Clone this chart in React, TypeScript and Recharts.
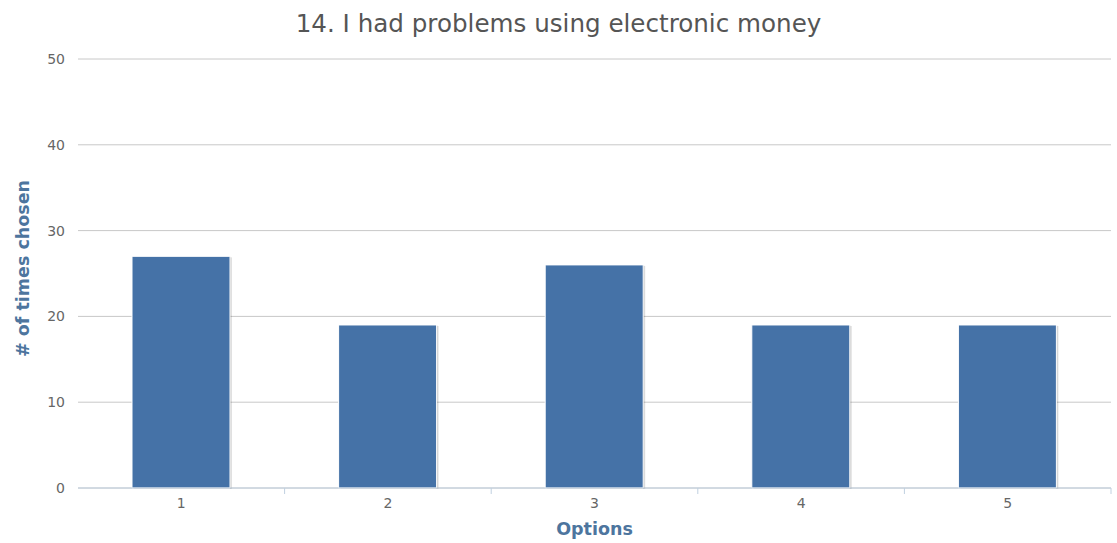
import React from "react";
import { BarChart, Bar, XAxis, YAxis, CartesianGrid, Rectangle } from "recharts";

const categories = ["1", "2", "3", "4", "5"];
const timesChosen = [27, 19, 26, 19, 19];
const yTicks = [0, 10, 20, 30, 40, 50];

const data = categories.map((option, i) => ({ option, value: timesChosen[i] }));

const FONT = "'DejaVu Sans', 'Open Sans', sans-serif";
const AXIS_TITLE_COLOR = "#4d759e";
const AXIS_LINE_COLOR = "#c0d0e0";
const TICK_MARGIN = 10;

const BarShape = (props: any) => {
  const { x, y, width, height } = props;
  return (
    <g>
      <rect x={x + 2} y={y + 1} width={width} height={height} fill="rgba(0,0,0,0.12)" />
      <rect x={x + 1} y={y + 0.5} width={width} height={height} fill="rgba(0,0,0,0.10)" />
      <Rectangle x={x} y={y} width={width} height={height} fill="#4572a7" stroke="#ffffff" strokeWidth={1} />
    </g>
  );
};

// Category label at the band centre, tick mark on the band's right edge
const CategoryTick = (props: any) => {
  const { x, y, payload } = props;
  const axisY = y - TICK_MARGIN;
  const edge = x + (payload.offset ?? 0);
  return (
    <g>
      <line x1={edge} x2={edge} y1={axisY} y2={axisY + 6} stroke={AXIS_LINE_COLOR} />
      <text x={x} y={y} dy="0.71em" textAnchor="middle" fill="#666" fontSize={14} fontFamily={FONT}>
        {payload.value}
      </text>
    </g>
  );
};

export default function App() {
  return (
    <div style={{ position: "absolute", left: 0, top: 0, width: 1117, height: 543, background: "#fff", fontFamily: FONT }}>
      <div
        style={{
          position: "absolute",
          top: 10,
          left: 0,
          width: 1117,
          textAlign: "center",
          fontSize: 24.6,
          color: "#555",
          lineHeight: "28px",
          fontFamily: FONT,
        }}
      >
        14. I had problems using electronic money
      </div>
      <BarChart
        width={1117}
        height={543}
        data={data}
        margin={{ top: 59, right: 6, bottom: 0, left: 0 }}
      >
        <CartesianGrid horizontal vertical={false} stroke="#c8c8c8" />
        <XAxis
          dataKey="option"
          height={55}
          tickLine={false}
          tickSize={0}
          tickMargin={TICK_MARGIN}
          axisLine={{ stroke: AXIS_LINE_COLOR }}
          tick={<CategoryTick />}
          label={{
            content: (p: any) => (
              <text
                x={p.viewBox.x + p.viewBox.width / 2}
                y={p.viewBox.y + 47}
                textAnchor="middle"
                fill={AXIS_TITLE_COLOR}
                fontWeight="bold"
                fontSize={17.5}
                fontFamily={FONT}
              >
                Options
              </text>
            ),
          }}
        />
        <YAxis
          width={78}
          domain={[0, 50]}
          ticks={yTicks}
          axisLine={false}
          tickLine={false}
          tickSize={0}
          tickMargin={13}
          tick={{ fill: "#666", fontSize: 14, fontFamily: FONT }}
          label={{
            content: (p: any) => {
              const cx = 23;
              const cy = p.viewBox.y + p.viewBox.height / 2 - 5;
              return (
                <text
                  x={cx}
                  y={cy}
                  transform={`rotate(-90 ${cx} ${cy})`}
                  textAnchor="middle"
                  dominantBaseline="central"
                  fill={AXIS_TITLE_COLOR}
                  fontWeight="bold"
                  fontSize={17.5}
                  fontFamily={FONT}
                >
                  # of times chosen
                </text>
              );
            },
          }}
        />
        <Bar dataKey="value" barSize={98} shape={<BarShape />} isAnimationActive={false} />
      </BarChart>
    </div>
  );
}
